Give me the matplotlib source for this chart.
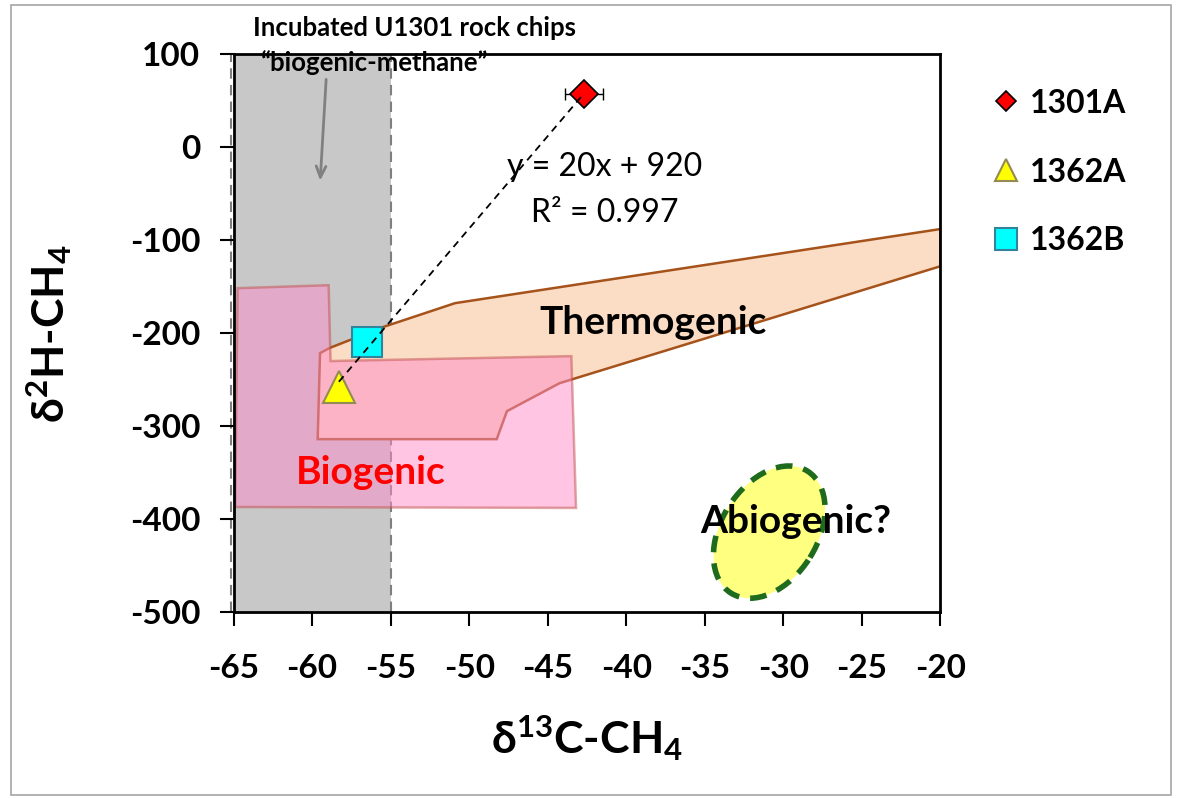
import matplotlib
matplotlib.use("Agg")
import matplotlib.pyplot as plt
import matplotlib.transforms as mtransforms
from matplotlib.patches import Polygon, Ellipse, Rectangle
from matplotlib.lines import Line2D
import numpy as np

plt.rcParams['font.family'] = ['Lato', 'DejaVu Sans']
plt.rcParams['mathtext.fontset'] = 'custom'
plt.rcParams['mathtext.rm'] = 'Lato:bold'
plt.rcParams['mathtext.it'] = 'Lato:bold'
plt.rcParams['mathtext.bf'] = 'Lato:bold'
plt.rcParams['axes.unicode_minus'] = False

# samples: d13C, d2H
samples = ['1301A', '1362A', '1362B']
d13c = [-42.7, -58.3, -56.5]
d2h = [57, -258, -210]
d13c_err = [1.2, 0.3, 0.0]
d2h_err = [5, 0, 0]

# field outlines (d13C, d2H)
thermo_x = [-59.5, -58.9, -55.5, -50.9, -20.0, -20.0, -44.25, -47.6, -48.25, -59.65]
thermo_y = [-221.5, -216, -193.5, -167.7, -88, -128, -253.8, -283.9, -314, -314]
bio_x = [-64.75, -58.95, -58.83, -43.5, -43.2, -64.9]
bio_y = [-151.6, -148.4, -230, -224.7, -388, -387]
abio_center = (-30.9, -414)
incub_range = (-65, -55)

fig = plt.figure(figsize=(11.8, 7.98), dpi=100)
ax = fig.add_axes([0.198, 0.233, 0.599, 0.699])

# outer frame
fig.patches.append(Rectangle((0.009, 0.004), 0.983, 0.99, transform=fig.transFigure,
                             fill=False, edgecolor='#a6a6a6', lw=1.2))

# incubation band
ax.axvspan(incub_range[0], incub_range[1], facecolor='#c8c8c8', edgecolor='none', zorder=0)
ax.axvline(incub_range[0] - 0.15, color='#7f7f7f', ls=(0, (5, 3)), lw=1.5, zorder=1, clip_on=False)
ax.axvline(incub_range[1], color='#7f7f7f', ls=(0, (5, 3)), lw=1.5, zorder=1)

ax.add_patch(Polygon(np.column_stack([thermo_x, thermo_y]), closed=True,
                     facecolor='#fbdcc4', edgecolor='#a5521b', lw=1.8, zorder=2))
ax.add_patch(Polygon(np.column_stack([bio_x, bio_y]), closed=True,
                     facecolor='#ff8cc8', edgecolor='#c0504d', lw=1.8, alpha=0.5, zorder=3))

trans = fig.dpi_scale_trans + mtransforms.ScaledTranslation(abio_center[0], abio_center[1], ax.transData)
ax.add_patch(Ellipse((0, 0), 1.44, 0.96, angle=58, transform=trans,
                     facecolor='#ffff80', edgecolor='#1e6b1e', lw=4, ls=(0, (3, 2)), zorder=2))

# trendline
coef = np.polyfit(d13c, d2h, 1)
xs = np.array([min(d13c), max(d13c)])
ax.plot(xs, np.polyval(coef, xs), color='black', ls=(0, (4, 3)), lw=1.3, zorder=6)

ax.errorbar(d13c, d2h, xerr=d13c_err, yerr=d2h_err, fmt='none', ecolor='black',
            elinewidth=1, capsize=4, zorder=4)

styles = [dict(marker='D', ms=14, mfc='red', mec='black', mew=1.2),
          dict(marker='^', ms=23, mfc='yellow', mec='#948a54', mew=1.5),
          dict(marker='s', ms=22, mfc='cyan', mec='#31849b', mew=1.5)]
handles = []
for i, name in enumerate(samples):
    ax.plot(d13c[i], d2h[i], ls='none', zorder=5, **styles[i])
    st = dict(styles[i])
    st['ms'] = st['ms'] * 0.72
    handles.append(Line2D([], [], ls='none', label=name, **st))

ax.text(-38.3, -188, 'Thermogenic', fontsize=28, fontweight='bold', ha='center', va='center', zorder=7)
ax.text(-56.3, -350, 'Biogenic', fontsize=28, fontweight='bold', color='red', ha='center', va='center', zorder=7)
ax.text(-29.2, -403, 'Abiogenic?', fontsize=28, fontweight='bold', ha='center', va='center', zorder=7)
ax.text(-41.4, -21, 'y = 20x + 920', fontsize=23, ha='center', va='center', zorder=7)
ax.text(-41.4, -71, 'R² = 0.997', fontsize=23, ha='center', va='center', zorder=7)

ax.text(-53.5, 128, 'Incubated U1301 rock chips', fontsize=18.5, fontweight='bold',
        ha='center', va='center', clip_on=False)
ax.text(-56.1, 91, '“biogenic-methane”', fontsize=18.5, fontweight='bold',
        ha='center', va='center', zorder=7)
ax.annotate('', xy=(-59.5, -39), xytext=(-59.1, 76),
            arrowprops=dict(arrowstyle='->,head_length=0.8,head_width=0.35', color='#808080', lw=2),
            zorder=7)

ax.set_xlim(-65, -20)
ax.set_ylim(-500, 100)
ax.set_xticks(np.arange(-65, -19, 5))
ax.set_yticks(np.arange(-500, 101, 100))
for lab in ax.get_xticklabels() + ax.get_yticklabels():
    lab.set_fontweight('bold')
ax.tick_params(labelsize=24, width=1.5, length=10, direction='out')
ax.tick_params(axis='x', pad=20)
ax.tick_params(axis='y', pad=14)
for sp in ax.spines.values():
    sp.set_linewidth(2)
    sp.set_zorder(8)

ax.set_xlabel('δ$^{13}$C-CH$_4$', fontsize=32, fontweight='bold', labelpad=22)
ax.set_ylabel('δ$^{2}$H-CH$_4$', fontsize=32, fontweight='bold', labelpad=40)

fig.legend(handles=handles, loc='upper left', bbox_to_anchor=(0.815, 0.925), frameon=False,
           prop=dict(size=23, weight='bold'), labelspacing=1.25, handlelength=1.0,
           handletextpad=0.25)

fig.savefig('out.png', dpi=100)
